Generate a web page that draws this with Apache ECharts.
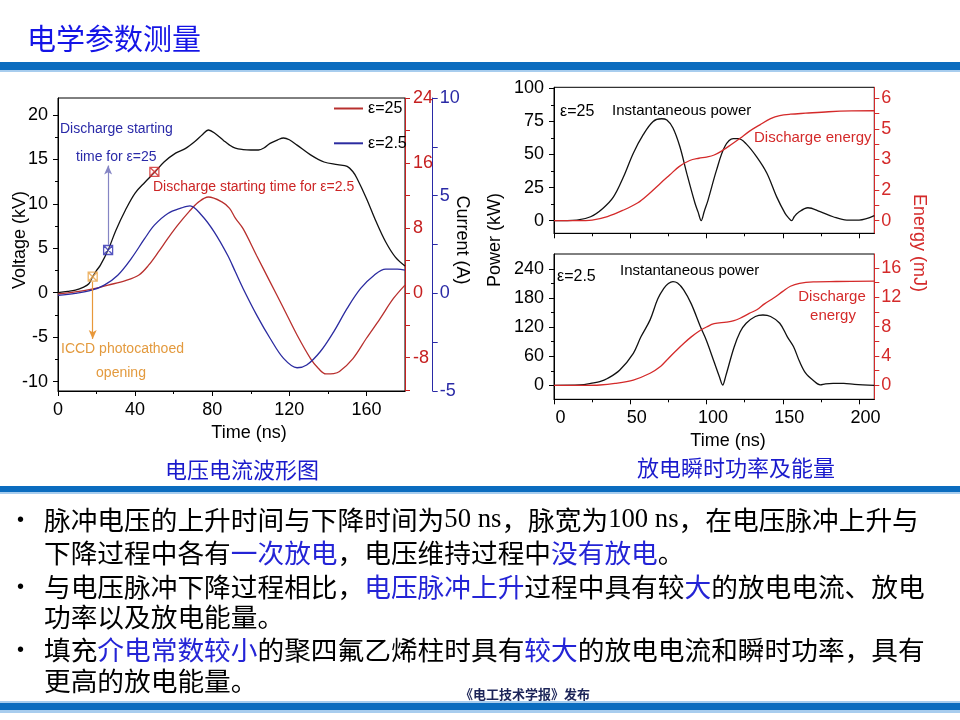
<!DOCTYPE html>
<html>
<head>
<meta charset="utf-8">
<script src="https://cdn.jsdelivr.net/npm/echarts@6/dist/echarts.min.js"></script>
<style>html,body{margin:0;padding:0;background:#fff}#c{width:960px;height:720px}</style>
</head>
<body>
<div id="c"></div>
<script>
// ---------- Left chart: voltage / current waveforms ----------
const voltTime = [0, 5, 9, 13, 16, 18, 20, 22, 26, 30, 35, 40, 45, 50, 55, 61, 66, 71, 75, 78, 81, 86, 89, 92, 96, 100, 104, 107, 110, 114, 117, 120, 124, 131, 138, 145, 150, 153, 155, 160, 165, 170, 175, 180];
const voltage  = [0, 0.15, 0.3, 0.6, 1.0, 1.8, 2.5, 3.1, 4.8, 7.0, 9.3, 11.2, 12.4, 13.5, 14.7, 15.7, 16.2, 17.0, 17.8, 18.3, 18.0, 17.1, 16.6, 16.25, 16.1, 16.05, 16.05, 16.3, 16.8, 17.2, 17.4, 17.2, 16.6, 15.5, 14.7, 14.4, 14.2, 13.6, 12.9, 10.6, 8.0, 5.7, 4.0, 3.0];
const cur25Time = [0, 9, 17.5, 26, 35, 42, 47, 52, 57, 62, 68, 73, 78, 85, 89, 92, 96, 103, 110, 117, 124, 131, 135, 139, 143, 146, 153, 160, 167, 174, 180];
const current25 = [-0.15, 0.1, 0.45, 0.95, 1.5, 2.2, 3.4, 5.0, 6.7, 8.3, 10.0, 11.2, 11.8, 11.2, 10.4, 9.2, 7.9, 4.6, 1.35, -1.9, -5.2, -8.1, -9.3, -10.0, -9.95, -9.7, -8.1, -5.6, -3.2, -0.7, 0.95];
const cur25eTime = [0, 9, 17.5, 24, 31, 38, 45, 50, 57, 64, 68.5, 74.5, 81, 88, 92, 96, 103, 110, 117, 124, 129, 136, 143, 150, 157, 164, 170, 176, 180];
const current2p5 = [-0.1, 0, 0.16, 0.42, 0.93, 1.78, 2.81, 3.49, 4.09, 4.37, 4.48, 4.0, 3.15, 1.95, 1.1, 0.25, -1.1, -2.3, -3.33, -3.81, -3.67, -2.99, -1.97, -0.77, 0.25, 0.93, 1.24, 1.24, 1.19];
// markers [time, voltage] : ICCD opening, discharge start eps=25, discharge start eps=2.5
const markerPts = [[18, 1.8], [26, 4.8], [50, 13.6]];
// arrows [time, fromVoltage, toVoltage]
const arrows = [[26, 5.4, 14.3], [18, 1.2, -5.2]];
const tLeftTicks = [0, 40, 80, 120, 160];
const tLeftMinor = [20, 60, 100, 140];
const vTicks = [-10, -5, 0, 5, 10, 15, 20];
const vMinor = [-7.5, -2.5, 2.5, 7.5, 12.5, 17.5];
const redTicks = [-8, 0, 8, 16, 24];
const redMinor = [-12, -4, 4, 12, 20];
const blueTicks = [-5, 0, 5, 10];
const blueMinor = [-2.5, 2.5, 7.5];

// ---------- Right charts: power / energy ----------
const pTopTime = [0, 15, 24, 32, 39, 45.5, 52, 58.5, 65, 70.5, 74, 78, 82.5, 87, 92.5, 94.5, 96.5, 98.5, 101, 106.5, 112, 117.5, 121, 126, 133, 139.5, 146, 151.5, 153.5, 155.8, 157.5, 160, 166.5, 174.5, 183, 192, 200, 210];
const pTop     = [0, 0.5, 3, 9.3, 18, 33, 51, 65, 75, 77, 76, 70, 56, 36, 13, 6.5, 0, 7, 15.6, 38, 56, 62, 62, 58, 48, 36, 18, 5.5, 2.5, 0, 3, 6, 9.8, 6.8, 3, 0.5, 0.5, 3.8];
const eTopTime = [0, 15, 25, 35, 45, 55, 62, 70, 76, 82, 89, 95, 100, 105, 110, 116, 122, 128, 135, 142, 148, 155, 165, 180, 195, 210];
const eTop     = [0, 0, 0.03, 0.2, 0.5, 0.88, 1.3, 1.85, 2.25, 2.65, 2.95, 3.06, 3.12, 3.22, 3.42, 3.72, 4.04, 4.38, 4.7, 5.0, 5.15, 5.22, 5.27, 5.34, 5.38, 5.39];
const pBotTime = [0, 17, 26, 30, 35, 43, 52, 57, 63, 68, 72, 75, 78, 81, 85, 90, 96, 100, 105, 108.5, 110.6, 112.5, 118, 122, 126, 132, 137, 142, 148, 153, 157, 161, 165, 170, 174.5, 178, 183, 190, 197, 210];
const pBot     = [0, 0.7, 5, 7.5, 14, 31, 66, 100, 135, 178, 200, 210, 214, 211, 197, 168, 121, 92, 48, 17, 0.6, 18, 78, 110, 128, 142, 145, 142, 128, 100, 80, 49, 25, 10, 1, 3, 4, 4, 2, 0];
const eBotTime = [0, 20, 30, 40, 52, 63, 70, 74, 80, 85, 90, 96, 100, 105, 113, 118, 122, 128, 133, 138, 144, 150, 155, 161, 170, 185, 210];
const eBot     = [0, 0, 0.04, 0.25, 0.72, 1.64, 2.6, 3.45, 4.7, 5.7, 6.6, 7.5, 7.95, 8.4, 8.6, 8.8, 9.14, 9.8, 10.3, 11.1, 11.9, 12.8, 13.5, 13.9, 14.1, 14.15, 14.2];
const tRightTicks = [0, 50, 100, 150, 200];
const tRightMinor = [25, 75, 125, 175];
const pTopTicks = [0, 25, 50, 75, 100];
const pTopMinor = [12.5, 37.5, 62.5, 87.5];
const eTopTicks = [0, 1.5, 3, 4.5, 6];
const eTopMinor = [0.75, 2.25, 3.75, 5.25];
const pBotTicks = [0, 60, 120, 180, 240];
const pBotMinor = [30, 90, 150, 210];
const eBotTicks = [0, 4, 8, 12, 16];
const eBotMinor = [2, 6, 10, 14];

const zip = (a, b) => a.map((v, i) => [v, b[i]]);
const FF = 'Liberation Sans';
const CJK = 'Noto Sans CJK SC';
const BLACK = '#111', RED_L = '#b8302e', BLUE_L = '#2b2ba0', RED_R = '#d42a2a';

function majorAxis(extra, color, ticks, labelOpt) {
  return Object.assign({
    type: 'value', splitLine: {show: false},
    axisLine: {show: true, onZero: false, lineStyle: {color: color, width: 1}},
    axisTick: {show: true, inside: false, length: 5, customValues: ticks, lineStyle: {color: color, width: 1}},
    axisLabel: Object.assign({show: !!labelOpt, customValues: ticks, color: color, fontSize: 18, fontFamily: FF, margin: 9}, labelOpt || {})
  }, extra);
}
function minorAxis(extra, color, ticks) {
  return Object.assign({
    type: 'value', splitLine: {show: false},
    axisLine: {show: false, onZero: false},
    axisTick: {show: true, inside: false, length: 3, customValues: ticks, lineStyle: {color: color, width: 1}},
    axisLabel: {show: false}
  }, extra);
}

const xAxis = [
  majorAxis({gridIndex: 0, min: 0, max: 180, position: 'bottom'}, '#000', tLeftTicks, {margin: 10}),
  minorAxis({gridIndex: 0, min: 0, max: 180, position: 'bottom'}, '#000', tLeftMinor),
  majorAxis({gridIndex: 1, min: 0, max: 210, position: 'bottom'}, '#000', tRightTicks, null),
  minorAxis({gridIndex: 1, min: 0, max: 210, position: 'bottom'}, '#000', tRightMinor),
  majorAxis({gridIndex: 2, min: 0, max: 210, position: 'bottom'}, '#000', tRightTicks, {margin: 10, padding: [0, 0, 0, 13]}),
  minorAxis({gridIndex: 2, min: 0, max: 210, position: 'bottom'}, '#000', tRightMinor)
];
const yAxis = [
  majorAxis({gridIndex: 0, min: -11.06, max: 21.9, position: 'left'}, '#000', vTicks, {margin: 10}),
  minorAxis({gridIndex: 0, min: -11.06, max: 21.9, position: 'left'}, '#000', vMinor),
  majorAxis({gridIndex: 0, min: -12.1, max: 24, position: 'right'}, '#c62020', redTicks.concat(redMinor), {customValues: redTicks, margin: 8}),
  majorAxis({gridIndex: 0, min: -5, max: 10, position: 'right', offset: 27.7}, '#2a2aa6', blueTicks.concat(blueMinor), {customValues: blueTicks, margin: 7}),
  majorAxis({gridIndex: 1, min: -9.5, max: 100.75, position: 'left'}, '#000', pTopTicks, {margin: 10}),
  minorAxis({gridIndex: 1, min: -9.5, max: 100.75, position: 'left'}, '#000', pTopMinor),
  majorAxis({gridIndex: 1, min: -0.62, max: 6.54, position: 'right'}, RED_R, eTopTicks.concat(eTopMinor), {customValues: eTopTicks, margin: 7, formatter: v => String(Math.round(v))}),
  majorAxis({gridIndex: 2, min: -28.9, max: 270.9, position: 'left'}, '#000', pBotTicks, {margin: 10}),
  minorAxis({gridIndex: 2, min: -28.9, max: 270.9, position: 'left'}, '#000', pBotMinor),
  majorAxis({gridIndex: 2, min: -1.91, max: 17.9, position: 'right'}, RED_R, eBotTicks.concat(eBotMinor), {customValues: eBotTicks, margin: 7})
];

function lineSeries(name, xi, yi, data, color) {
  return {name: name, type: 'line', xAxisIndex: xi, yAxisIndex: yi, data: data, showSymbol: false, symbol: 'none',
    smooth: 0.35, lineStyle: {color: color, width: 1.3}, itemStyle: {color: color}, silent: true, animation: false, z: 3};
}
const markerColors = ['#e8a040', '#2a2ab0', '#d02424'];
const series = [
  lineSeries('Voltage', 0, 0, zip(voltTime, voltage), BLACK),
  lineSeries('ε=25', 0, 2, zip(cur25Time, current25), RED_L),
  lineSeries('ε=2.5', 0, 3, zip(cur25eTime, current2p5), BLUE_L),
  {
    name: 'markers', type: 'scatter', xAxisIndex: 0, yAxisIndex: 0, animation: false, silent: true, z: 5,
    symbol: 'path://M0,0L10,0L10,10L0,10ZM0,0L10,10M10,0L0,10', symbolSize: 9,
    data: markerPts.map((p, i) => ({value: p, itemStyle: {color: 'rgba(255,255,255,0.3)', borderColor: markerColors[i], borderWidth: 1.3}})),
    markLine: {
      silent: true, animation: false, symbol: ['none', 'arrow'], symbolSize: [6, 9], label: {show: false},
      lineStyle: {type: 'solid', width: 1.2},
      data: [
        [{coord: [arrows[0][0], arrows[0][1]], lineStyle: {color: '#8585c4', type: 'solid', width: 1.2}}, {coord: [arrows[0][0], arrows[0][2]]}],
        [{coord: [arrows[1][0], arrows[1][1]], lineStyle: {color: '#e8983a', type: 'solid', width: 1.2}}, {coord: [arrows[1][0], arrows[1][2]]}]
      ]
    }
  },
  lineSeries('P25', 2, 4, zip(pTopTime, pTop), BLACK),
  lineSeries('E25', 2, 6, zip(eTopTime, eTop), RED_R),
  lineSeries('P2.5', 4, 7, zip(pBotTime, pBot), BLACK),
  lineSeries('E2.5', 4, 9, zip(eBotTime, eBot), RED_R)
];

function txt(x, y, text, size, color, align, extra) {
  return Object.assign({type: 'text', x: x, y: y, silent: true, z: 10,
    style: {text: text, fontSize: size, fontFamily: FF, fill: color, align: align || 'left', textAlign: align || 'left',
      verticalAlign: 'middle', textVerticalAlign: 'middle'}}, extra || {});
}
function rect(x, y, w, h, color) {
  return {type: 'rect', silent: true, z: 1, shape: {x: x, y: y, width: w, height: h}, style: {fill: color}};
}
const BAR = '#0b6cbf', BAR_L = '#a8cdee';
const HL = '#2424d6';
const bulletRich = {
  b: {fill: HL, fontSize: 26.7, fontFamily: CJK},
  s: {fill: '#000', fontSize: 26.7, fontFamily: 'Liberation Serif'}
};
function bodyLine(y, text) {
  return {type: 'text', x: 44, y: y, silent: true, z: 10,
    style: {text: text, fontSize: 26.7, fontFamily: CJK, fill: '#000', align: 'left', textAlign: 'left',
      verticalAlign: 'middle', textVerticalAlign: 'middle', rich: bulletRich}};
}
function cjkText(x, y, text, size, color, align, weight) {
  return {type: 'text', x: x, y: y, silent: true, z: 10,
    style: {text: text, fontSize: size, fontFamily: CJK, fontWeight: weight || 'normal', fill: color, align: align, textAlign: align,
      verticalAlign: 'middle', textVerticalAlign: 'middle'}};
}

const graphic = [
  rect(0, 62, 960, 8, BAR), rect(0, 70, 960, 2, BAR_L),
  rect(0, 486, 960, 6, BAR), rect(0, 492, 960, 2, BAR_L),
  rect(0, 701, 960, 2, BAR_L), rect(0, 703, 960, 7, BAR), rect(0, 710, 960, 3, BAR_L),
  cjkText(27, 39, '电学参数测量', 29, '#1414e6', 'left'),
  // left chart annotations
  txt(60, 129, 'Discharge starting', 14, '#2a2aa8'),
  txt(76, 157, 'time for ε=25', 14, '#2a2aa8'),
  txt(153, 187, 'Discharge starting time for ε=2.5', 14, '#cc2424'),
  txt(61, 349, 'ICCD photocathoed', 14, '#e39a3e'),
  txt(121, 373, 'opening', 14, '#e39a3e', 'center'),
  txt(20.5, 240, 'Voltage (kV)', 18, '#000', 'center', {rotation: Math.PI / 2}),
  txt(462, 240, 'Current (A)', 18, '#000', 'center', {rotation: -Math.PI / 2}),
  txt(249, 433, 'Time (ns)', 18, '#000', 'center'),
  // right chart annotations
  txt(560, 112, 'ε=25', 16, '#000'),
  txt(612, 111, 'Instantaneous power', 15, '#000'),
  txt(754, 138, 'Discharge energy', 15, RED_R),
  txt(557, 277, 'ε=2.5', 16, '#000'),
  txt(620, 271, 'Instantaneous power', 15, '#000'),
  txt(832, 297, 'Discharge', 15, RED_R, 'center'),
  txt(833, 316, 'energy', 15, RED_R, 'center'),
  txt(495, 240, 'Power (kW)', 18, '#000', 'center', {rotation: Math.PI / 2}),
  txt(919, 243, 'Energy (mJ)', 18, RED_R, 'center', {rotation: -Math.PI / 2}),
  txt(728, 441, 'Time (ns)', 18, '#000', 'center'),
  // captions
  cjkText(242, 470, '电压电流波形图', 22, '#1a1acc', 'center'),
  cjkText(736, 468, '放电瞬时功率及能量', 22, '#1a1acc', 'center'),
  // bullets
  txt(17, 520, '•', 20, '#000'),
  txt(17, 587, '•', 20, '#000'),
  txt(17, 650, '•', 20, '#000'),
  bodyLine(520, '脉冲电压的上升时间与下降时间为{s|50 ns}，脉宽为{s|100 ns}，在电压脉冲上升与'),
  bodyLine(553, '下降过程中各有{b|一次放电}，电压维持过程中{b|没有放电}。'),
  bodyLine(587, '与电压脉冲下降过程相比，{b|电压脉冲上升}过程中具有较{b|大}的放电电流、放电'),
  bodyLine(617, '功率以及放电能量。'),
  bodyLine(650, '填充{b|介电常数较小}的聚四氟乙烯柱时具有{b|较大}的放电电流和瞬时功率，具有'),
  bodyLine(681, '更高的放电能量。'),
  cjkText(525, 694, '《电工技术学报》发布', 13, '#1c2458', 'center', 'bold')
];

const chart = echarts.init(document.getElementById('c'), null, {renderer: 'canvas'});
chart.setOption({
  animation: false,
  backgroundColor: '#fff',
  grid: [
    {left: 58, top: 98, width: 347, height: 293, show: true, borderColor: '#000', borderWidth: 1, backgroundColor: 'transparent'},
    {left: 554, top: 87.3, width: 320.3, height: 146, show: true, borderColor: '#000', borderWidth: 1, backgroundColor: 'transparent'},
    {left: 554, top: 254, width: 320.3, height: 145.3, show: true, borderColor: '#000', borderWidth: 1, backgroundColor: 'transparent'}
  ],
  legend: {
    data: ['ε=25', 'ε=2.5'], orient: 'vertical', left: 329, top: 95.5, itemWidth: 29, itemHeight: 2, itemGap: 18.8,
    icon: 'rect', selectedMode: false, textStyle: {fontSize: 16, fontFamily: FF, color: '#000'}
  },
  xAxis: xAxis,
  yAxis: yAxis,
  series: series,
  graphic: graphic
});
</script>
</body>
</html>
